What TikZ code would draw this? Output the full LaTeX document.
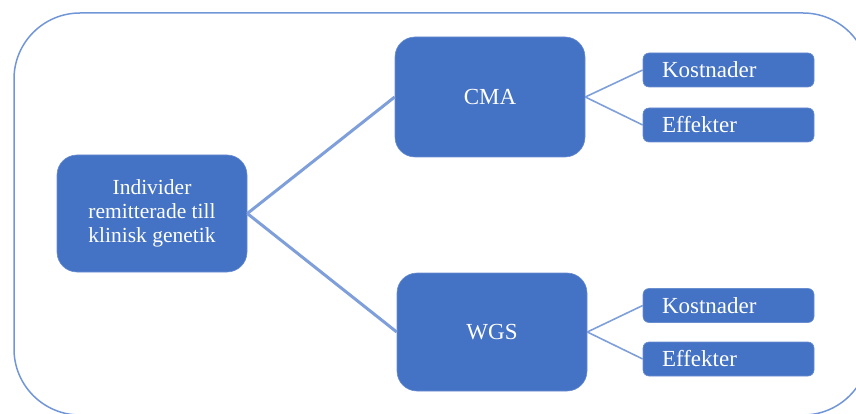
\documentclass[tikz,border=0pt]{standalone}
\usepackage{fontspec}
\setmainfont{Liberation Serif}
\definecolor{boxblue}{HTML}{4472C4}
\definecolor{framecol}{HTML}{7196D8}
\definecolor{linkcol}{HTML}{7F9FDB}
\begin{document}
\begin{tikzpicture}[x=1pt,y=-1pt,
  bigbox/.style={fill=boxblue, draw=boxblue!80!white, line width=0.6pt, rounded corners=20pt, text=white, minimum width=190pt, align=center, inner sep=0pt},
  smallbox/.style={fill=boxblue, draw=boxblue!80!white, line width=0.6pt, rounded corners=6pt, text=white, text width=133pt, inner xsep=19pt, inner ysep=0pt, minimum height=34pt, align=left, font=\fontsize{23}{26}\selectfont},
  thicklink/.style={draw=linkcol, line width=3pt},
  thinlink/.style={draw=linkcol, line width=1.6pt}]
\useasboundingbox (0,0) rectangle (856,414);
\draw[framecol, line width=1.5pt, rounded corners=66pt] (14,13) rectangle (869,415);

\node[bigbox, minimum height=117pt, font=\fontsize{21.5}{24}\selectfont] (ind) at (152,213.5) {Individer\\remitterade till\\klinisk genetik};
\node[bigbox, minimum height=120pt, font=\fontsize{23}{26}\selectfont] (cma) at (490,97) {CMA};
\node[bigbox, minimum height=118pt, font=\fontsize{23}{26}\selectfont] (wgs) at (492,332) {WGS};

\node[smallbox] (k1) at (728.5,70) {Kostnader};
\node[smallbox] (e1) at (728.5,125) {Effekter};
\node[smallbox] (k2) at (728.5,305.5) {Kostnader};
\node[smallbox] (e2) at (728.5,359) {Effekter};

\draw[thicklink] (ind.east) -- (cma.west);
\draw[thicklink] (ind.east) -- (wgs.west);
\draw[thinlink] (cma.east) -- (k1.west);
\draw[thinlink] (cma.east) -- (e1.west);
\draw[thinlink] (wgs.east) -- (k2.west);
\draw[thinlink] (wgs.east) -- (e2.west);
\end{tikzpicture}
\end{document}
